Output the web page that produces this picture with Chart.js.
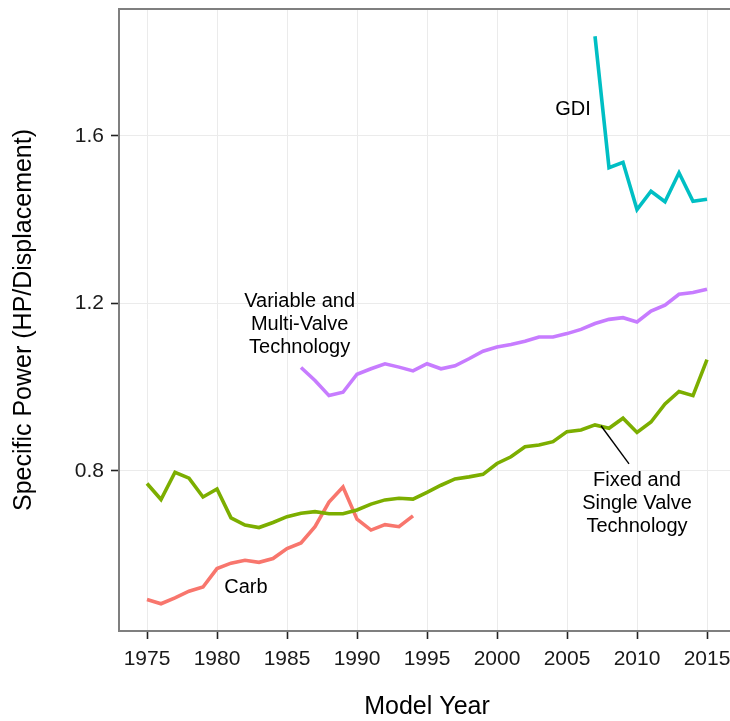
<!DOCTYPE html>
<html>
<head>
<meta charset="utf-8">
<script src="https://cdn.jsdelivr.net/npm/chart.js@4.4.1/dist/chart.umd.min.js"></script>
<style>
  html, body { margin: 0; padding: 0; background: #fff; overflow: hidden; }
  #wrap { width: 740px; height: 721px; }
</style>
</head>
<body>
<div id="wrap"><canvas id="chart" width="740" height="721"></canvas></div>
<script>
// Specific power by engine technology, model years 1975-2015

const xTicks = [1975, 1980, 1985, 1990, 1995, 2000, 2005, 2010, 2015];
const yTicks = [0.8, 1.2, 1.6];

const carbYears = [1975, 1976, 1977, 1978, 1979, 1980, 1981, 1982, 1983, 1984,
    1985, 1986, 1987, 1988, 1989, 1990, 1991, 1992, 1993, 1994];
const carbValues = [0.493, 0.483, 0.497, 0.513, 0.523, 0.567, 0.580, 0.587, 0.582, 0.591,
    0.615, 0.628, 0.667, 0.726, 0.762, 0.685, 0.659, 0.672, 0.667, 0.693];

const fixedYears = [1975, 1976, 1977, 1978, 1979, 1980, 1981, 1982, 1983, 1984,
    1985, 1986, 1987, 1988, 1989, 1990, 1991, 1992, 1993, 1994,
    1995, 1996, 1997, 1998, 1999, 2000, 2001, 2002, 2003, 2004,
    2005, 2006, 2007, 2008, 2009, 2010, 2011, 2012, 2013, 2014, 2015];
const fixedValues = [0.770, 0.732, 0.797, 0.783, 0.738, 0.757, 0.688, 0.671, 0.665, 0.677,
    0.691, 0.699, 0.703, 0.698, 0.698, 0.707, 0.721, 0.731, 0.735, 0.733,
    0.749, 0.766, 0.781, 0.786, 0.792, 0.818, 0.834, 0.858, 0.862, 0.870,
    0.894, 0.898, 0.910, 0.902, 0.926, 0.892, 0.917, 0.960, 0.990, 0.980, 1.066];

const gdiYears = [2007, 2008, 2009, 2010, 2011, 2012, 2013, 2014, 2015];
const gdiValues = [1.838, 1.524, 1.537, 1.424, 1.468, 1.443, 1.512, 1.444, 1.449];

const variableYears = [1986, 1987, 1988, 1989, 1990, 1991, 1992, 1993, 1994,
    1995, 1996, 1997, 1998, 1999, 2000, 2001, 2002, 2003, 2004,
    2005, 2006, 2007, 2008, 2009, 2010, 2011, 2012, 2013, 2014, 2015];
const variableValues = [1.047, 1.016, 0.980, 0.988, 1.031, 1.044, 1.056, 1.048, 1.039,
    1.056, 1.044, 1.051, 1.068, 1.086, 1.096, 1.102, 1.110, 1.120, 1.120,
    1.128, 1.138, 1.152, 1.162, 1.166, 1.156, 1.182, 1.196, 1.222, 1.226, 1.234];

// Direct labels (data coordinates), drawn instead of a legend
const labels = [
    { lines: ['Carb'], x: 1982.07, y: 0.522 },
    { lines: ['GDI'], x: 2005.43, y: 1.662 },
    { lines: ['Variable and', 'Multi-Valve', 'Technology'], x: 1985.9, y: 1.150 },
    { lines: ['Fixed and', 'Single Valve', 'Technology'], x: 2010.0, y: 0.723 }
];
const pointer = { x1: 2007.43, y1: 0.908, x2: 2009.43, y2: 0.817 };

const colors = {
    carb: '#F8766D',
    fixed: '#7CAE00',
    gdi: '#00BFC4',
    variable: '#C77CFF'
};

function toPoints(xs, ys) {
    return xs.map((x, i) => ({ x: x, y: ys[i] }));
}

function lineSet(label, xs, ys, color) {
    return {
        label: label,
        data: toPoints(xs, ys),
        borderColor: color,
        backgroundColor: 'transparent',
        borderWidth: 3.6,
        pointRadius: 0,
        tension: 0,
        borderJoinStyle: 'miter',
        borderCapStyle: 'butt'
    };
}

// Top frame line and direct labels
const frameAndLabels = {
    id: 'frameAndLabels',
    afterDatasetsDraw(chart) {
        const { ctx, chartArea, scales } = chart;
        const xs = scales.x, ys = scales.y;
        ctx.save();
        ctx.strokeStyle = '#7f7f7f';
        ctx.lineWidth = 2;
        ctx.beginPath();
        ctx.moveTo(chartArea.left, chartArea.top);
        ctx.lineTo(chartArea.right, chartArea.top);
        ctx.stroke();

        ctx.strokeStyle = '#000';
        ctx.lineWidth = 1.4;
        ctx.beginPath();
        ctx.moveTo(xs.getPixelForValue(pointer.x1), ys.getPixelForValue(pointer.y1));
        ctx.lineTo(xs.getPixelForValue(pointer.x2), ys.getPixelForValue(pointer.y2));
        ctx.stroke();

        ctx.fillStyle = '#000';
        ctx.font = '20px "Liberation Sans", Arial, sans-serif';
        ctx.textAlign = 'center';
        ctx.textBaseline = 'middle';
        const lineGap = 23;
        labels.forEach(l => {
            const cx = xs.getPixelForValue(l.x);
            const cy = ys.getPixelForValue(l.y);
            const start = cy - (l.lines.length - 1) / 2 * lineGap;
            l.lines.forEach((t, i) => ctx.fillText(t, cx, start + i * lineGap));
        });
        ctx.restore();
    }
};

Chart.defaults.font.family = '"Liberation Sans", Arial, sans-serif';

new Chart(document.getElementById('chart'), {
    type: 'line',
    data: {
        datasets: [
            lineSet('Variable and Multi-Valve Technology', variableYears, variableValues, colors.variable),
            lineSet('GDI', gdiYears, gdiValues, colors.gdi),
            lineSet('Fixed and Single Valve Technology', fixedYears, fixedValues, colors.fixed),
            lineSet('Carb', carbYears, carbValues, colors.carb)
        ]
    },
    options: {
        responsive: false,
        animation: false,
        events: [],
        layout: { padding: { top: 9, right: 5, left: 0, bottom: 0 } },
        plugins: {
            legend: { display: false },
            tooltip: { enabled: false }
        },
        scales: {
            x: {
                type: 'linear',
                min: 1973,
                max: 2017,
                afterBuildTicks: s => { s.ticks = xTicks.map(v => ({ value: v })); },
                afterFit: s => {
                    s.height = 90;
                    s.paddingLeft = 0;
                    s.paddingRight = 0;
                },
                ticks: {
                    color: '#1a1a1a',
                    padding: 8,
                    maxRotation: 0,
                    autoSkip: false,
                    font: { size: 21 },
                    callback: v => String(v)
                },
                grid: {
                    color: '#ebebeb',
                    lineWidth: 1,
                    tickColor: '#222',
                    tickWidth: 1.6,
                    tickLength: 8
                },
                border: { color: '#7f7f7f', width: 2 },
                title: {
                    display: true,
                    text: 'Model Year',
                    color: '#000',
                    font: { size: 25, lineHeight: 1.15 },
                    padding: { top: 0, bottom: 0 }
                }
            },
            y: {
                min: 0.418,
                max: 1.903,
                afterBuildTicks: s => { s.ticks = yTicks.map(v => ({ value: v })); },
                afterFit: s => {
                    s.width = 119;
                    s.paddingTop = 0;
                    s.paddingBottom = 0;
                },
                ticks: {
                    color: '#1a1a1a',
                    padding: 7,
                    font: { size: 21 },
                    callback: v => v.toFixed(1)
                },
                grid: {
                    color: '#ebebeb',
                    lineWidth: 1,
                    tickColor: '#222',
                    tickWidth: 1.6,
                    tickLength: 8
                },
                border: { color: '#7f7f7f', width: 2 },
                title: {
                    display: true,
                    text: 'Specific Power (HP/Displacement)',
                    color: '#000',
                    font: { size: 25 },
                    padding: { top: 9, bottom: 0 }
                }
            }
        }
    },
    plugins: [frameAndLabels]
});
</script>
</body>
</html>
